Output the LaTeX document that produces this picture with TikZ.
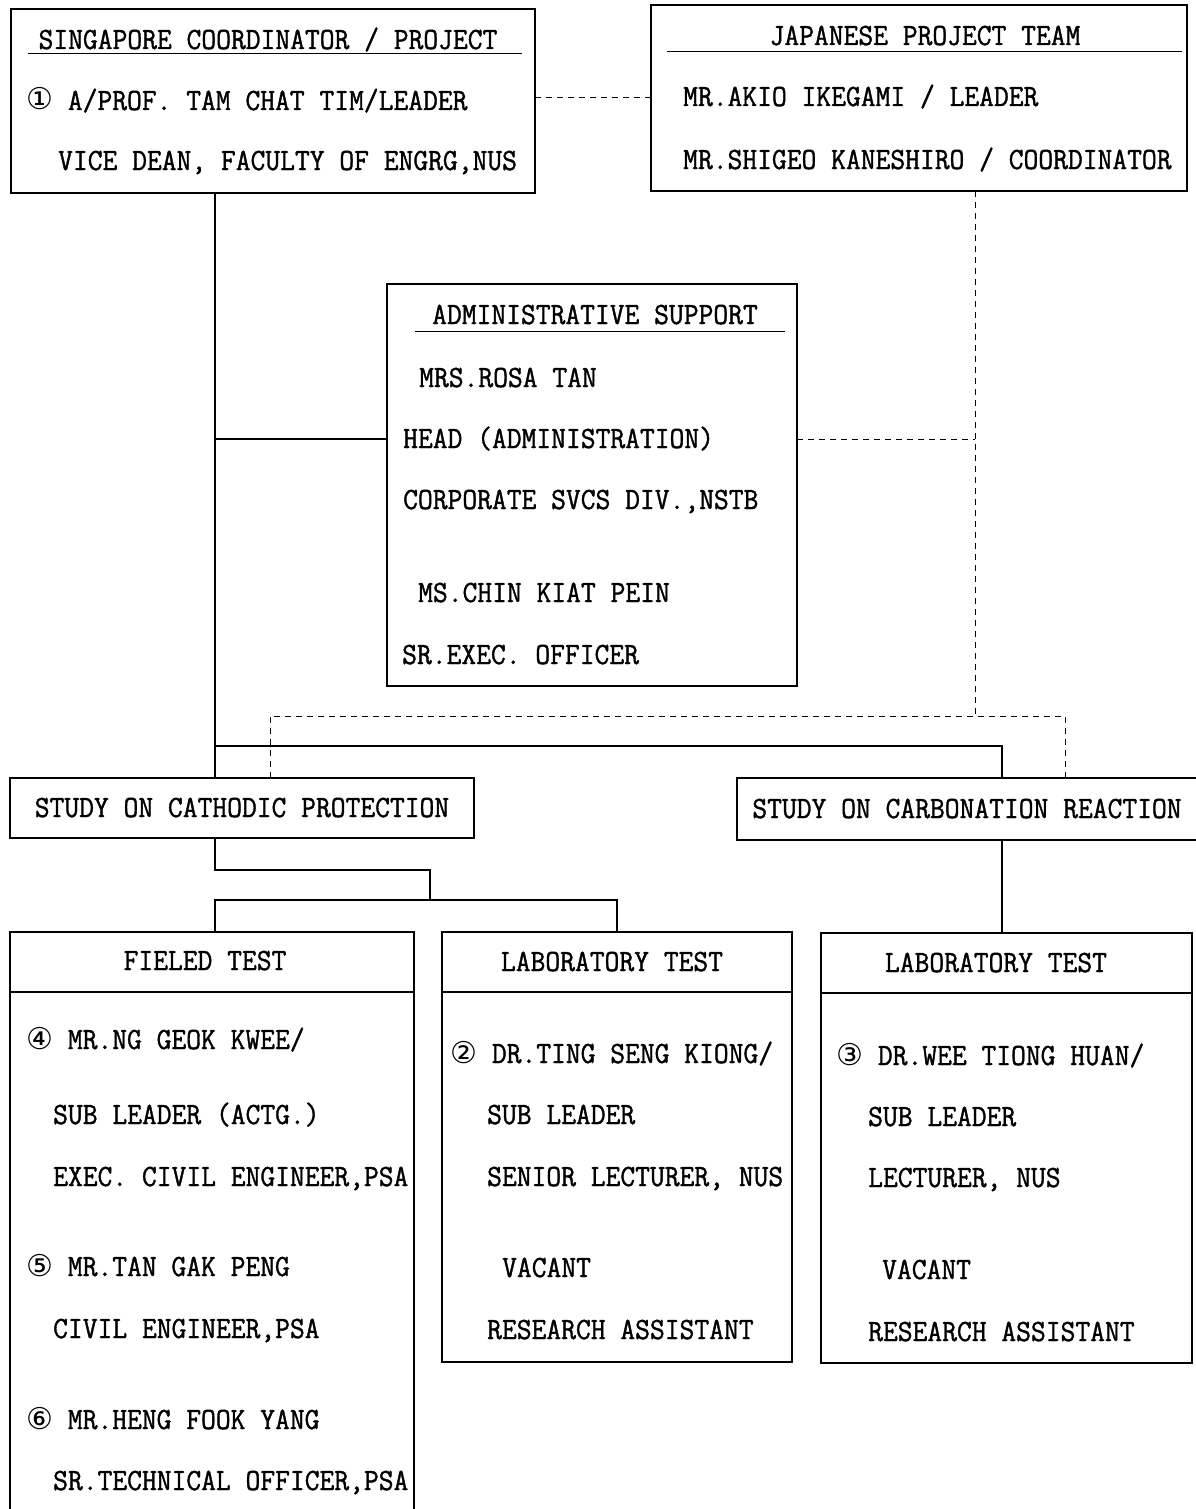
\documentclass[tikz,border=0pt]{standalone}
\usepackage{fontspec}
\setmainfont{Latin Modern Mono}[FakeStretch=0.93, FakeBold=1.2]
\newfontfamily\circfont{DejaVu Sans}
\newcommand{\cnum}[1]{{\circfont\fontsize{30}{30}\selectfont #1}}
\tikzset{
  box/.style={draw, line width=1.1pt, anchor=north west, inner sep=0pt, outer sep=0pt},
  txt/.style={anchor=base west, inner sep=0pt, font=\fontsize{30.9}{32}\selectfont},
  hdr/.style={anchor=base, inner sep=0pt, font=\fontsize{30.9}{32}\selectfont},
  conn/.style={line width=1.1pt},
  dconn/.style={line width=1pt, dash pattern=on 6pt off 5pt},
  uline/.style={line width=1pt},
}
\begin{document}
\begin{tikzpicture}[x=1pt,y=-1pt]
\useasboundingbox (0,0) rectangle (1195,1509);
% boxes
\node[box, minimum width=524pt, minimum height=184pt] (sg) at (11,9) {};
\node[box, minimum width=536pt, minimum height=186pt] (jp) at (651,5) {};
\node[box, minimum width=410pt, minimum height=402pt] (adm) at (387,284) {};
\node[box, minimum width=464pt, minimum height=60pt] (cath) at (10,778) {};
\node[box, minimum width=470pt, minimum height=62pt] (carb) at (737,778) {};
\node[box, minimum width=404pt, minimum height=600pt] (field) at (10,932) {};
\node[box, minimum width=350pt, minimum height=430pt] (lab1) at (442,932) {};
\node[box, minimum width=371pt, minimum height=430pt] (lab2) at (821,933) {};
% header underlines / dividers
\draw[uline] (28,54) -- (522,54);
\draw[uline] (667,52) -- (1182,52);
\draw[uline] (415,331) -- (785,331);
\draw[conn] (field.west |- 0,992) -- (field.east |- 0,992);
\draw[conn] (lab1.west |- 0,992) -- (lab1.east |- 0,992);
\draw[conn] (lab2.west |- 0,993) -- (lab2.east |- 0,993);
% Singapore box text
\node[hdr] (sgh) at (268,49) {SINGAPORE COORDINATOR / PROJECT};
\node[txt] (sg1) at (26,110) {\cnum{①} A/PROF. TAM CHAT TIM/LEADER};
\node[txt] (sg2) at (58,170) {VICE DEAN, FACULTY OF ENGRG,NUS};
% Japanese box text
\node[hdr] (jph) at (925,45) {JAPANESE PROJECT TEAM};
\node[txt] (jp1) at (683,106) {MR.AKIO IKEGAMI / LEADER};
\node[txt] (jp2) at (683,169) {MR.SHIGEO KANESHIRO / COORDINATOR};
% Admin box text
\node[hdr] (admh) at (595,324) {ADMINISTRATIVE SUPPORT};
\node[txt] (adm1) at (419,387) {MRS.ROSA TAN};
\node[txt] (adm2) at (403,448) {HEAD (ADMINISTRATION)};
\node[txt] (adm3) at (403,509) {CORPORATE SVCS DIV.,NSTB};
\node[txt] (adm4) at (418,602) {MS.CHIN KIAT PEIN};
\node[txt] (adm5) at (402,664) {SR.EXEC. OFFICER};
% study boxes
\node[hdr] (cathT) at (242,817) {STUDY ON CATHODIC PROTECTION};
\node[hdr] (carbT) at (967,818) {STUDY ON CARBONATION REACTION};
% field test
\node[hdr] (fh) at (205,970) {FIELED TEST};
\node[txt] (f1) at (26,1049) {\cnum{④} MR.NG GEOK KWEE/};
\node[txt] (f2) at (53,1124) {SUB LEADER (ACTG.)};
\node[txt] (f3) at (53,1186) {EXEC. CIVIL ENGINEER,PSA};
\node[txt] (f4) at (26,1276) {\cnum{⑤} MR.TAN GAK PENG};
\node[txt] (f5) at (53,1338) {CIVIL ENGINEER,PSA};
\node[txt] (f6) at (26,1429) {\cnum{⑥} MR.HENG FOOK YANG};
\node[txt] (f7) at (53,1490) {SR.TECHNICAL OFFICER,PSA};
% lab 1
\node[hdr] (l1h) at (612,971) {LABORATORY TEST};
\node[txt] (l11) at (450,1063) {\cnum{②} DR.TING SENG KIONG/};
\node[txt] (l12) at (487,1124) {SUB LEADER};
\node[txt] (l13) at (487,1186) {SENIOR LECTURER, NUS};
\node[txt] (l14) at (502,1277) {VACANT};
\node[txt] (l15) at (487,1339) {RESEARCH ASSISTANT};
% lab 2
\node[hdr] (l2h) at (996,972) {LABORATORY TEST};
\node[txt] (l21) at (836,1065) {\cnum{③} DR.WEE TIONG HUAN/};
\node[txt] (l22) at (868,1126) {SUB LEADER};
\node[txt] (l23) at (868,1187) {LECTURER, NUS};
\node[txt] (l24) at (882,1279) {VACANT};
\node[txt] (l25) at (868,1341) {RESEARCH ASSISTANT};
% junction coordinates
\coordinate (ja) at (215,439);
\coordinate (jb) at (215,746);
\coordinate (jc) at (975,716);
\coordinate (jd) at (215,870);
\coordinate (je) at (430,900);
% solid connectors
\draw[conn] (215,0 |- sg.south) -- (jb) -- (215,0 |- cath.north);
\draw[conn] (ja) -- (ja -| adm.west);
\draw[conn] (jb) -| (1002,0 |- carb.north);
\draw[conn] (215,0 |- cath.south) -- (jd) -| (je);
\draw[conn] (215,0 |- field.north) |- (je) -| (617,0 |- lab1.north);
\draw[conn] (1002,0 |- carb.south) -- (1002,0 |- lab2.north);
% dashed connectors
\draw[dconn] (sg.east |- 0,98) -- (jp.west |- 0,98);
\draw[dconn] (975,0 |- jp.south) -- (jc);
\draw[dconn] (adm.east |- ja) -- (975,439);
\draw[dconn] (270,0 |- cath.north) -- (270,716) -- (1065,716) -- (1065,0 |- carb.north);
\end{tikzpicture}
\end{document}
